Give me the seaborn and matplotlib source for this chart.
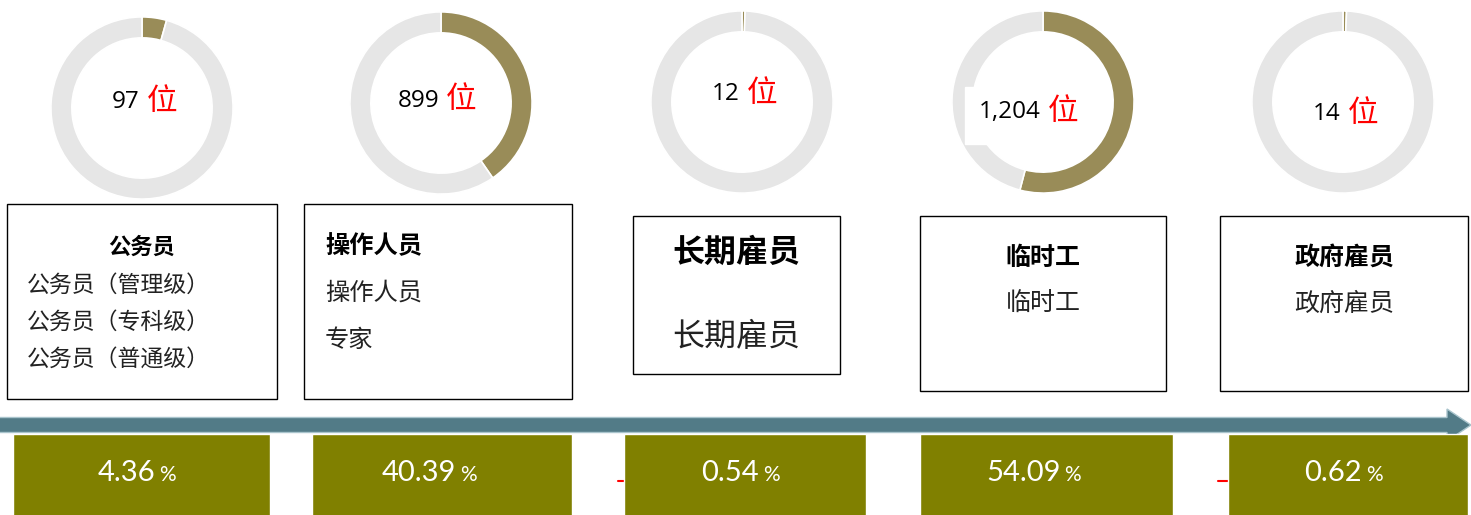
import matplotlib
matplotlib.use('Agg')
import matplotlib.pyplot as plt
from matplotlib.patches import Rectangle, FancyArrow
import seaborn as sns

# data
categories = ['公务员', '操作人员', '长期雇员', '临时工', '政府雇员']
sub_lines = [['公务员（管理级）', '公务员（专科级）', '公务员（普通级）'],
             ['操作人员', '专家'],
             ['长期雇员'],
             ['临时工'],
             ['政府雇员']]
counts = [97, 899, 12, 1204, 14]
shares = [4.36, 40.39, 0.54, 54.09, 0.62]

# layout (pixels, figure is 1471 x 515)
W, H = 1471, 515
donut_cx = [142, 441, 742, 1043, 1343]
donut_cy = [108, 103, 102, 102, 102]
donut_r = 92
label_y = [101, 100, 93, 111, 113]
box_x0 = [7, 304, 633, 920, 1220]
box_x1 = [277, 572, 840, 1166, 1468]
box_y0 = [204, 204, 216, 216, 216]
box_y1 = [399, 399, 374, 391, 391]
bar_x0 = [13, 312, 624, 920, 1228]
bar_x1 = [270, 572, 866, 1173, 1468]

sns.set_theme(style='white')
plt.rcParams['font.family'] = ['Noto Sans CJK SC', 'DejaVu Sans']

gold = '#998c58'
ring_grey = '#e6e6e6'
olive = '#808000'
arrow_col = '#527b87'

fig = plt.figure(figsize=(W / 100, H / 100), dpi=100)
ax = fig.add_axes([0, 0, 1, 1])
ax.set_xlim(0, W)
ax.set_ylim(H, 0)
ax.axis('off')

# category boxes
for i, cat in enumerate(categories):
    x0, x1, y0, y1 = box_x0[i], box_x1[i], box_y0[i], box_y1[i]
    ax.add_patch(Rectangle((x0, y0), x1 - x0, y1 - y0, fill=False,
                           ec='black', lw=1.0, zorder=2))
    cx = (x0 + x1) / 2
    if i == 0:
        ax.text(cx, 247, cat, fontsize=16, fontweight='bold',
                ha='center', va='center', color='black')
        for j, s in enumerate(sub_lines[i]):
            ax.text(27, 285 + 37 * j, s, fontsize=16.5, ha='left',
                    va='center', color='#222222')
    elif i == 1:
        ax.text(x0 + 21, 246, cat, fontsize=17.5, fontweight='bold',
                ha='left', va='center', color='black')
        for j, s in enumerate(sub_lines[i]):
            ax.text(x0 + 21, 293 + 47 * j, s, fontsize=17.5, ha='left',
                    va='center', color='#222222')
    elif i == 2:
        ax.text(cx, 253, cat, fontsize=23, fontweight='bold',
                ha='center', va='center', color='black')
        ax.text(cx, 337, sub_lines[i][0], fontsize=23, ha='center',
                va='center', color='#222222')
    else:
        ax.text(cx, 258, cat, fontsize=18, fontweight='bold',
                ha='center', va='center', color='black')
        ax.text(cx, 304, sub_lines[i][0], fontsize=18, ha='center',
                va='center', color='#222222')

# timeline arrow
ax.add_patch(FancyArrow(-5, 425, W + 5, 0, width=15, head_width=32,
                        head_length=24, length_includes_head=True,
                        fc=arrow_col, ec='#a9c4cc', lw=1, zorder=3))

# little red dashes peeking out from behind the bars
for xr in [618, 1218]:
    ax.plot([xr, xr + 20], [481, 481], color='red', lw=1.5, zorder=3)

# share bars
centers = [(a + b) / 2 for a, b in zip(bar_x0, bar_x1)]
widths = [b - a for a, b in zip(bar_x0, bar_x1)]
ax.bar(centers, [H - 434 + 5] * 5, width=widths, bottom=434,
       color=olive, zorder=4)
for c, s in zip(centers, shares):
    ax.text(c + 14, 473, f'{s:.2f}', fontsize=21, family='Lato',
            color='white', ha='right', va='center', zorder=5)
    ax.text(c + 18, 475, '%', fontsize=15, family='Lato',
            color='white', ha='left', va='center', zorder=5)

# donuts
for i, (cx, cy, s) in enumerate(zip(donut_cx, donut_cy, shares)):
    dax = fig.add_axes([(cx - donut_r) / W, 1 - (cy + donut_r) / H,
                        2 * donut_r / W, 2 * donut_r / H])
    dax.pie([s, 100 - s], colors=[gold, ring_grey], startangle=90,
            counterclock=False,
            wedgeprops=dict(width=0.23, edgecolor='white', linewidth=1.2))
    dax.set_xlim(-1.01, 1.01)
    dax.set_ylim(-1.01, 1.01)
    dax.set_zorder(1)

# centre labels on top of everything
tax = fig.add_axes([0, 0, 1, 1])
tax.set_xlim(0, W)
tax.set_ylim(H, 0)
tax.axis('off')
tax.set_zorder(5)
# white patch behind the 1,204 label
tax.add_patch(Rectangle((965, 87), 60, 57, color='white'))
for cx, ly, n in zip(donut_cx, label_y, counts):
    tax.text(cx - 2, ly + 1, f'{n:,}', fontsize=17.5, color='black',
             ha='right', va='center', family='Open Sans')
    tax.text(cx + 5, ly, '位', fontsize=22, color='red',
             ha='left', va='center')

fig.savefig('out.png', dpi=100)
